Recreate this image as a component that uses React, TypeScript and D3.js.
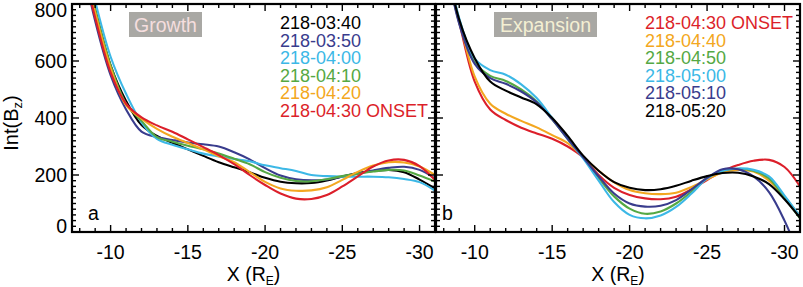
import React from 'react';
import * as d3 from 'd3';

const W = 803;
const H = 287;
const FONT = '"Liberation Sans", Arial, Helvetica, sans-serif';

// x grid (Earth radii)
const xGrid = [-8, -9, -10, -11, -12, -13, -14, -15, -16, -17, -18, -19, -20, -21, -22, -23, -24, -25, -26, -27, -28, -29, -30, -31];

// Panel a: Growth
const growthLabels = ['218-03:40', '218-03:50', '218-04:00', '218-04:10', '218-04:20', '218-04:30 ONSET'];
const growthColors = ['#000000', '#393c8d', '#3cb8e6', '#55a844', '#f3a720', '#dc1f2a'];
const a0340 = [1010, 780, 585, 460, 375, 337, 313, 290, 267, 245, 227, 210, 190, 176, 171, 172, 181, 195, 207, 214, 218, 210, 184, 153];
const a0350 = [990, 740, 550, 430, 352, 333, 323, 314, 308, 300, 280, 255, 224, 198, 185, 181, 184, 194, 205, 216, 225, 229, 218, 188];
const a0400 = [1040, 810, 615, 485, 385, 327, 306, 290, 275, 265, 256, 248, 234, 224, 214, 200, 196, 194, 194, 194, 192, 186, 175, 145];
const a0410 = [1010, 780, 585, 450, 390, 333, 317, 303, 290, 275, 257, 238, 210, 190, 179, 178, 185, 196, 204, 212, 218, 216, 198, 177];
const a0420 = [1000, 770, 575, 445, 398, 362, 334, 312, 290, 266, 245, 210, 176, 153, 145, 146, 157, 183, 211, 233, 245, 244, 230, 200];
const a0430 = [980, 752, 560, 450, 402, 374, 352, 325, 298, 270, 238, 200, 165, 135, 117, 116, 130, 160, 195, 230, 251, 253, 231, 182];
const growthSeries = [a0340, a0350, a0400, a0410, a0420, a0430];

// Panel b: Expansion
const expLabels = ['218-04:30 ONSET', '218-04:40', '218-04:50', '218-05:00', '218-05:10', '218-05:20'];
const expColors = ['#dc1f2a', '#f3a720', '#55a844', '#3cb8e6', '#393c8d', '#000000'];
const b0430 = [950, 735, 528, 430, 393, 366, 346, 327, 300, 262, 200, 155, 130, 118, 115, 124, 150, 182, 214, 235, 250, 253, 228, 160];
const b0440 = [960, 745, 545, 450, 415, 390, 367, 340, 312, 264, 215, 174, 147, 136, 133, 138, 158, 185, 209, 218, 212, 180, 123, 55];
const b0450 = [990, 735, 595, 548, 530, 500, 458, 395, 327, 262, 190, 125, 82, 64, 72, 100, 142, 190, 215, 222, 215, 188, 120, 48];
const b0500 = [1000, 750, 608, 568, 552, 518, 470, 400, 327, 258, 180, 105, 60, 48, 58, 88, 135, 188, 215, 223, 218, 195, 128, 55];
const b0510 = [990, 730, 590, 540, 520, 493, 455, 395, 327, 262, 195, 135, 100, 89, 92, 112, 150, 190, 220, 220, 195, 140, 40, -90];
const b0520 = [990, 745, 610, 528, 496, 472, 448, 400, 337, 268, 215, 175, 155, 147, 150, 162, 180, 196, 207, 208, 195, 168, 115, 50];
const expSeries = [b0430, b0440, b0450, b0500, b0510, b0520];

const xDomain: [number, number] = [-7.5, -31];
const yDomain: [number, number] = [0, 800];
const xMajor = [-10, -15, -20, -25, -30];
const yMajor = [0, 200, 400, 600, 800];

const TOP = 4;
const BOTTOM = 232;

type PanelProps = {
  id: string;
  left: number;
  right: number;
  series: number[][];
  colors: string[];
  labels: string[];
  legendX: number;
  boxTitle: string;
  boxX: number;
  boxW: number;
  titleColor: string;
  letter: string;
  showYLabels: boolean;
};

function Panel(p: PanelProps) {
  const x = d3.scaleLinear().domain(xDomain).range([p.left, p.right]);
  const y = d3.scaleLinear().domain(yDomain).range([BOTTOM, TOP]);
  const line = d3
    .line<number>()
    .x((_, i) => x(xGrid[i]))
    .y((d) => y(d))
    .curve(d3.curveCatmullRom.alpha(0.5));

  const xMinor = d3.range(-8, -32, -1).filter((v) => v % 5 !== 0);
  const yMinor = d3.range(0, 820, 20).filter((v) => v % 200 !== 0);
  const MAJ = 7;
  const MIN = 4;
  const tickStroke = { stroke: '#000', strokeWidth: 1.4 };

  return (
    <g>
      <defs>
        <clipPath id={`clip-${p.id}`}>
          <rect x={p.left} y={TOP} width={p.right - p.left} height={BOTTOM - TOP} />
        </clipPath>
      </defs>
      {/* title box */}
      <rect x={p.boxX} y={12} width={p.boxW} height={25} fill="#a9a8a4" />
      <text x={p.boxX + p.boxW / 2} y={31.5} textAnchor="middle" fontSize={19.5} fill={p.titleColor} fontFamily={FONT}>
        {p.boxTitle}
      </text>
      {/* curves */}
      <g clipPath={`url(#clip-${p.id})`}>
        {p.series.map((s, i) => (
          <path key={i} d={line(s) || ''} fill="none" stroke={p.colors[i]} strokeWidth={2.1} strokeLinejoin="round" />
        ))}
      </g>
      {/* legend */}
      {p.labels.map((l, i) => (
        <text key={i} x={p.legendX} y={29 + i * 17.5} fontSize={18} fill={p.colors[i]} fontFamily={FONT}>
          {l}
        </text>
      ))}
      {/* ticks */}
      {xMajor.map((v) => (
        <g key={`xM${v}`}>
          <line x1={x(v)} x2={x(v)} y1={BOTTOM} y2={BOTTOM - MAJ} {...tickStroke} />
          <line x1={x(v)} x2={x(v)} y1={TOP} y2={TOP + MAJ} {...tickStroke} />
          <text x={x(v)} y={259} textAnchor="middle" fontSize={19.5} fontFamily={FONT} fill="#000">
            {v}
          </text>
        </g>
      ))}
      {xMinor.map((v) => (
        <g key={`xm${v}`}>
          <line x1={x(v)} x2={x(v)} y1={BOTTOM} y2={BOTTOM - MIN} {...tickStroke} />
          <line x1={x(v)} x2={x(v)} y1={TOP} y2={TOP + MIN} {...tickStroke} />
        </g>
      ))}
      {yMajor.map((v) => (
        <g key={`yM${v}`}>
          <line x1={p.left} x2={p.left + MAJ} y1={y(v)} y2={y(v)} {...tickStroke} />
          <line x1={p.right} x2={p.right - MAJ} y1={y(v)} y2={y(v)} {...tickStroke} />
          {p.showYLabels && (
            <text
              x={p.left - 5}
              y={Math.min(Math.max(y(v), 10), 226) + 7}
              textAnchor="end"
              fontSize={19.5}
              fontFamily={FONT}
              fill="#000"
            >
              {v}
            </text>
          )}
        </g>
      ))}
      {yMinor.map((v) => (
        <g key={`ym${v}`}>
          <line x1={p.left} x2={p.left + MIN} y1={y(v)} y2={y(v)} {...tickStroke} />
          <line x1={p.right} x2={p.right - MIN} y1={y(v)} y2={y(v)} {...tickStroke} />
        </g>
      ))}
      {/* frame */}
      <rect x={p.left} y={TOP} width={p.right - p.left} height={BOTTOM - TOP} fill="none" stroke="#000" strokeWidth={2.2} />
      {/* panel letter */}
      <text x={p.left + (p.showYLabels ? 16 : 6)} y={220} fontSize={19.5} fontFamily={FONT} fill="#000">
        {p.letter}
      </text>
      {/* x title */}
      <text x={(p.left + p.right) / 2} y={281} textAnchor="middle" fontSize={19.5} fontFamily={FONT} fill="#000">
        X (R
        <tspan fontSize={12} dy={4}>
          E
        </tspan>
        <tspan dy={-4}>)</tspan>
      </text>
    </g>
  );
}

export default function App() {
  return (
    <svg
      width={W}
      height={H}
      viewBox={`0 0 ${W} ${H}`}
      style={{ position: 'absolute', left: 0, top: 0, background: '#fff' }}
    >
      <rect x={0} y={0} width={W} height={H} fill="#fff" />
      <Panel
        id="a"
        left={72}
        right={435}
        series={growthSeries}
        colors={growthColors}
        labels={growthLabels}
        legendX={280}
        boxTitle="Growth"
        boxX={129}
        boxW={73}
        titleColor="#f5dede"
        letter="a"
        showYLabels={true}
      />
      <Panel
        id="b"
        left={436}
        right={800}
        series={expSeries}
        colors={expColors}
        labels={expLabels}
        legendX={645}
        boxTitle="Expansion"
        boxX={494}
        boxW={103}
        titleColor="#f4efd3"
        letter="b"
        showYLabels={false}
      />
      <text
        transform="translate(18,123) rotate(-90)"
        textAnchor="middle"
        fontSize={20}
        fontFamily={FONT}
        fill="#000"
      >
        Int(B
        <tspan fontSize={13} dy={4}>
          z
        </tspan>
        <tspan dy={-4}>)</tspan>
      </text>
    </svg>
  );
}
